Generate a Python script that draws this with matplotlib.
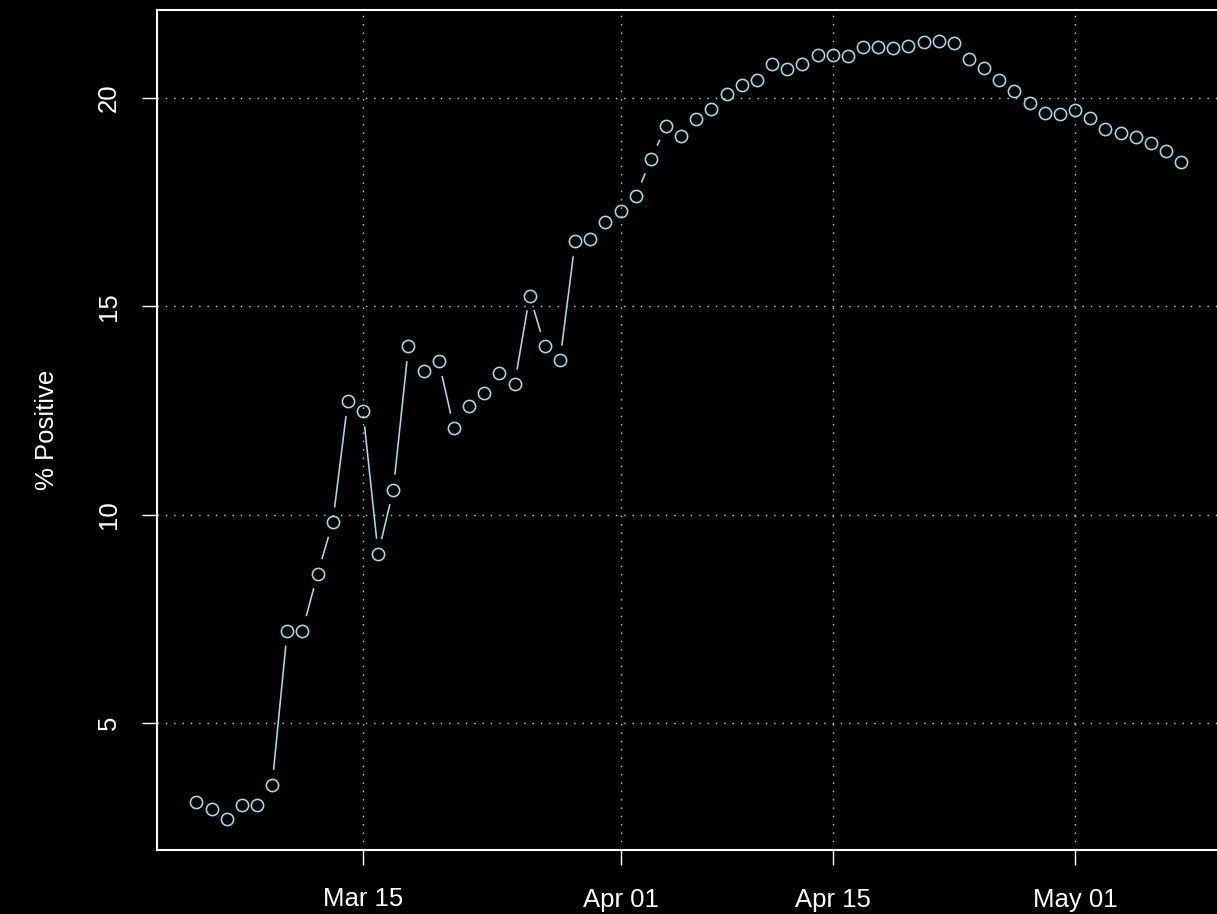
import numpy as np
import pandas as pd
import matplotlib
matplotlib.use("Agg")
import matplotlib.pyplot as plt
import matplotlib.dates as mdates

# ---- data ----
dates = pd.date_range("2020-03-04", "2020-05-08", freq="D")
pct_positive = [
    3.10, 2.93, 2.69, 3.03, 3.03, 3.51, 7.21, 7.21, 8.58, 9.81,
    12.72, 12.48, 9.06, 10.60, 14.04, 13.44, 13.68, 12.07, 12.60, 12.91,
    13.39, 13.13, 15.26, 14.04, 13.70, 16.56, 16.61, 17.02, 17.28, 17.64,
    18.53, 19.33, 19.09, 19.50, 19.74, 20.10, 20.31, 20.43, 20.82, 20.70,
    20.82, 21.03, 21.03, 21.01, 21.23, 21.23, 21.20, 21.25, 21.35, 21.37,
    21.32, 20.94, 20.72, 20.43, 20.17, 19.88, 19.64, 19.62, 19.71, 19.52,
    19.25, 19.16, 19.06, 18.92, 18.73, 18.46,
]
x_tick_dates = ["2020-03-15", "2020-04-01", "2020-04-15", "2020-05-01"]
x_tick_labels = ["Mar 15", "Apr 01", "Apr 15", "May 01"]
y_ticks = [5, 10, 15, 20]
y_label = "% Positive"

# ---- style ----
plt.rcParams['font.family'] = ['Liberation Sans', 'DejaVu Sans']
FG = "white"
PT_COL = "#ADD8E6"
GRID_COL = "#D3D3D3"
FS = 18.5

W, H, DPI = 1217, 914, 100
fig = plt.figure(figsize=(W / DPI, H / DPI), dpi=DPI, facecolor="black")
ax = fig.add_axes([157 / W, 64 / H, (1220.5 - 157) / W, (904 - 64) / H])
ax.set_facecolor("black")

x = mdates.date2num(dates.to_pydatetime())
y = np.array(pct_positive)

xr = x.max() - x.min()
yr = y.max() - y.min()
ax.set_xlim(x.min() - 0.04 * xr, x.max() + 0.04 * xr)
ax.set_ylim(y.min() - 0.04 * yr, y.max() + 0.04 * yr)

xt = mdates.date2num(pd.to_datetime(x_tick_dates).to_pydatetime())
ax.set_xticks(xt)
ax.set_xticklabels(x_tick_labels)
ax.set_yticks(y_ticks)
ax.set_yticklabels([str(v) for v in y_ticks], rotation=90, va="center")

# grid (dotted)
for v in xt:
    ax.axvline(v, color=GRID_COL, lw=1.0, ls=(0, (1, 5)), zorder=1)
for v in y_ticks:
    ax.axhline(v, color=GRID_COL, lw=1.0, ls=(0, (1, 5)), zorder=1)

# R type="b": line segments with gaps around points
fig.canvas.draw()
disp = ax.transData.transform(np.column_stack([x, y]))
inv = ax.transData.inverted()
GAP = 15.0
for i in range(len(disp) - 1):
    p0, p1 = disp[i], disp[i + 1]
    d = p1 - p0
    L = np.hypot(*d)
    if L <= 2 * GAP:
        continue
    u = d / L
    a = inv.transform(p0 + u * GAP)
    b = inv.transform(p1 - u * GAP)
    ax.plot([a[0], b[0]], [a[1], b[1]], color=PT_COL, lw=1.15, zorder=2,
            solid_capstyle="butt")

ax.plot(x, y, ls="none", marker="o", ms=8.8, mfc="none", mec=PT_COL,
        mew=1.15, zorder=3)

for s in ax.spines.values():
    s.set_color(FG)
    s.set_linewidth(1.5)

ax.tick_params(axis="both", colors=FG, labelcolor=FG, labelsize=FS,
               length=11, width=1.0, direction="out")
ax.tick_params(axis="x", pad=16)
ax.tick_params(axis="y", pad=15)

fig.text(47 / W, (64 + 904) / 2 / H, y_label, rotation=90, color=FG,
         fontsize=FS, ha="center", va="center")

fig.savefig("out.png", dpi=DPI, facecolor="black")
